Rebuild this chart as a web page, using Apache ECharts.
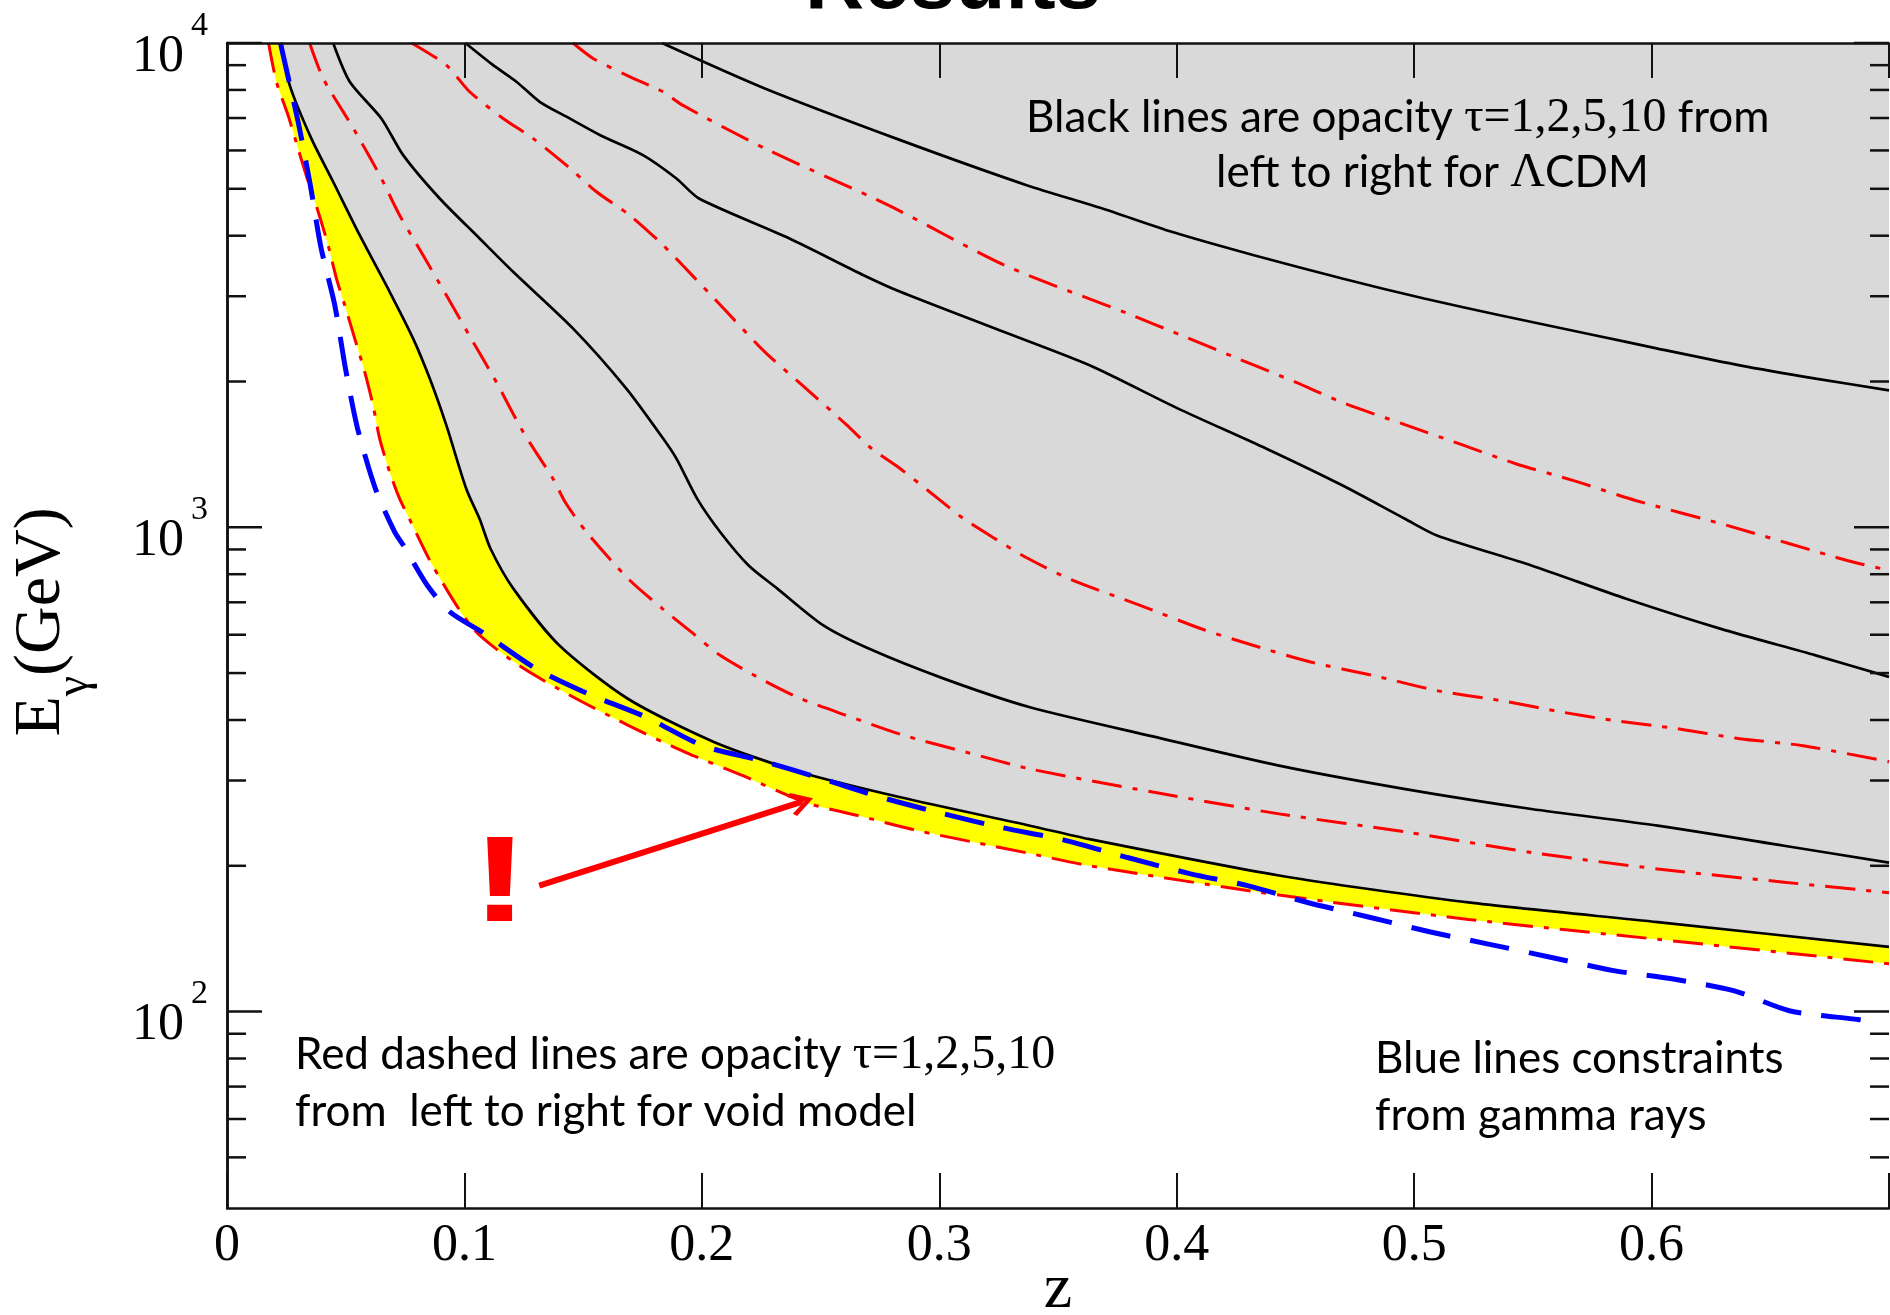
<!DOCTYPE html>
<html>
<head>
<meta charset="utf-8">
<title>Results</title>
<script src="https://cdn.jsdelivr.net/npm/echarts@6/dist/echarts.min.js"></script>
<style>
    html, body { margin: 0; padding: 0; background: #fff; }
    #chartMain { width: 1890px; height: 1315px; }
</style>
</head>
<body>
<div id="chartMain"></div>
<script>
// values: redshift z and photon energy E (GeV)

// black solid lines, LCDM, opacity tau = 1, 2, 5, 10
const zLcdm1 = [0.0229, 0.0264, 0.0355, 0.0447, 0.0559, 0.0685, 0.0784, 0.0854, 0.0924, 0.1008, 0.1064, 0.1110, 0.1206, 0.1400, 0.1690, 0.2053, 0.2415, 0.2836, 0.3382, 0.3633, 0.4431, 0.5229, 0.6026, 0.7000];
const eLcdm1 = [10000, 8185, 6353, 5170, 4010, 3064, 2453, 2028, 1623, 1200, 1040, 903, 747, 570, 442, 360, 312, 277, 242, 227, 191, 168, 153, 136];

const zLcdm2 = [0.0447, 0.0517, 0.0650, 0.0742, 0.0896, 0.1064, 0.1205, 0.1458, 0.1682, 0.1837, 0.1893, 0.1980, 0.2077, 0.2197, 0.2318, 0.2512, 0.2705, 0.3019, 0.3382, 0.3899, 0.4431, 0.4963, 0.5494, 0.6026, 0.6558, 0.7000];
const eLcdm2 = [10000, 8318, 6986, 5868, 4774, 3948, 3370, 2572, 1934, 1525, 1386, 1146, 978, 834, 747, 627, 561, 487, 425, 370, 322, 288, 262, 242, 220, 203];

const zLcdm5 = [0.1004, 0.1121, 0.1219, 0.1317, 0.1443, 0.1572, 0.1752, 0.1893, 0.1988, 0.2369, 0.2681, 0.2836, 0.3235, 0.3633, 0.4006, 0.4378, 0.4697, 0.4963, 0.5096, 0.5494, 0.5893, 0.6292, 0.6691, 0.7000];
const eLcdm5 = [10000, 9000, 8318, 7561, 6986, 6451, 5868, 5250, 4774, 3948, 3316, 3064, 2572, 2160, 1758, 1453, 1221, 1040, 962, 834, 712, 617, 544, 491];

const zLcdm10 = [0.1832, 0.2265, 0.2836, 0.3368, 0.3687, 0.3979, 0.4325, 0.4697, 0.5042, 0.5361, 0.5760, 0.6026, 0.6372, 0.6691, 0.7000];
const eLcdm10 = [10000, 8057, 6302, 5087, 4553, 4075, 3645, 3263, 2967, 2741, 2492, 2339, 2160, 2028, 1918];

// red dash-dot lines, void model, opacity tau = 1, 2, 5, 10
const zVoid1 = [0.0175, 0.0208, 0.0257, 0.0299, 0.0342, 0.0384, 0.0426, 0.0461, 0.0496, 0.0538, 0.0580, 0.0615, 0.0643, 0.0685, 0.0727, 0.0777, 0.0868, 0.1037, 0.1231, 0.1448, 0.1690, 0.1931, 0.2173, 0.2439, 0.2657, 0.2899, 0.3140, 0.3382, 0.3633, 0.4431, 0.5229, 0.6026, 0.7000];
const eVoid1 = [10000, 8318, 7097, 6056, 5168, 4482, 3823, 3263, 2874, 2453, 2094, 1786, 1524, 1301, 1146, 1020, 830, 617, 518, 449, 390, 343, 307, 270, 254, 237, 224, 212, 200, 174, 155, 141, 125.5];

const zVoid2 = [0.0348, 0.0405, 0.0524, 0.0643, 0.0727, 0.0826, 0.0924, 0.1036, 0.1134, 0.1247, 0.1373, 0.1424, 0.1514, 0.1690, 0.1834, 0.1955, 0.2077, 0.2246, 0.2415, 0.2608, 0.2850, 0.3116, 0.3382, 0.3899, 0.4431, 0.4963, 0.5494, 0.6026, 0.6558, 0.7000];
const eVoid2 = [10000, 8450, 6766, 5336, 4409, 3645, 3013, 2415, 1996, 1574, 1260, 1128, 978, 783, 679, 608, 544, 487, 443, 409, 372, 343, 317, 284, 256, 235, 213, 197, 185, 176];

const zVoid5 = [0.0777, 0.0924, 0.1022, 0.1163, 0.1289, 0.1429, 0.1556, 0.1696, 0.1822, 0.1919, 0.2092, 0.2265, 0.2439, 0.2612, 0.2716, 0.2836, 0.2995, 0.3102, 0.3235, 0.3368, 0.3554, 0.3846, 0.4112, 0.4325, 0.4564, 0.4830, 0.5096, 0.5361, 0.5627, 0.5840, 0.6106, 0.6372, 0.6638, 0.7000];
const eVoid5 = [10000, 9000, 7931, 6986, 6353, 5594, 4930, 4409, 3886, 3476, 2829, 2302, 1934, 1623, 1453, 1321, 1146, 1042, 947, 865, 780, 690, 615, 570, 527, 494, 460, 439, 415, 399, 384, 366, 354, 328];

const zVoid10 = [0.1457, 0.1542, 0.1682, 0.1836, 0.1919, 0.2265, 0.2785, 0.3275, 0.3793, 0.4019, 0.4258, 0.4498, 0.4710, 0.4949, 0.5189, 0.5428, 0.5668, 0.5933, 0.6318, 0.6824, 0.7000];
const eVoid10 = [10000, 9293, 8586, 7931, 7441, 6057, 4626, 3476, 2763, 2492, 2230, 1996, 1800, 1637, 1488, 1353, 1250, 1136, 1009, 854, 815];

// blue dashed line, constraint from gamma rays
const zGamma = [0.0225, 0.0246, 0.0302, 0.0351, 0.0396, 0.0454, 0.0499, 0.0550, 0.0625, 0.0706, 0.0747, 0.0844, 0.0940, 0.1085, 0.1303, 0.1521, 0.1762, 0.2004, 0.2246, 0.2512, 0.2754, 0.3019, 0.3261, 0.3527, 0.3793, 0.4059, 0.4298, 0.4551, 0.4803, 0.5069, 0.5308, 0.5574, 0.5840, 0.6079, 0.6345, 0.6584, 0.6870, 0.6942];
const eGamma = [10000, 9000, 6790, 5085, 3777, 2874, 2127, 1599, 1202, 978, 911, 758, 668, 603, 510, 453, 406, 354, 330, 302, 277, 256, 240, 226, 208, 192.5, 182, 168, 157, 146, 138, 129.5, 121.5, 117, 110.5, 100.3, 96.3, 95];

// red arrow pointing at the gap, tail and head
const arrowTail = [0.1315, 182];
const arrowHead = [0.2420, 271];

// axes
const zMin = 0;
const zMax = 0.7;
const zStep = 0.1;
const eMin = 39.3;
const eMax = 10000;
const yMajorTicks = [100, 1000, 10000];
const yMinorTicks = [50, 60, 70, 80, 90, 200, 300, 400, 500, 600, 700, 800, 900, 2000, 3000, 4000, 5000, 6000, 7000, 8000, 9000];

const pairs = (xs, ys) => xs.map((x, i) => [x, ys[i]]);

const SERIF = '"Liberation Serif", "Times New Roman", serif';
const SANS = 'Lato, "Open Sans", sans-serif';

const fillSeries = (xs, ys, color, z) => ({
    type: 'line',
    data: pairs(xs, ys),
    showSymbol: false,
    smooth: 0.25,
    silent: true,
    z: z,
    lineStyle: { width: 0, opacity: 0 },
    areaStyle: { color: color, opacity: 1, origin: 'end' }
});

const curveSeries = (name, xs, ys, color, width, dash, z) => ({
    name: name,
    type: 'line',
    data: pairs(xs, ys),
    showSymbol: false,
    smooth: 0.25,
    silent: true,
    z: z,
    lineStyle: { color: color, width: width, type: dash, cap: 'butt' }
});

const tickSeries = (values, len, labelled) => ({
    type: 'custom',
    z: 11,
    silent: true,
    clip: false,
    data: values.map(v => [zMin, v]),
    renderItem: function (params, api) {
        var v = api.value(1);
        var pl = api.coord([zMin, v]);
        var pr = api.coord([zMax, v]);
        var children = [
            { type: 'line', shape: { x1: pl[0], y1: pl[1], x2: pl[0] + len, y2: pl[1] }, style: { stroke: '#111', lineWidth: 2.5 } },
            { type: 'line', shape: { x1: pr[0] - len, y1: pr[1], x2: pr[0], y2: pr[1] }, style: { stroke: '#111', lineWidth: 2.5 } }
        ];
        if (labelled) {
            children.push({
                type: 'text', x: pl[0] - 43, y: pl[1] + 14,
                style: { text: '10', font: '52px ' + SERIF, fill: '#000', align: 'right', verticalAlign: 'middle' }
            });
            children.push({
                type: 'text', x: pl[0] - 36, y: pl[1] - 17,
                style: { text: String(Math.round(Math.log10(v))), font: '34px ' + SERIF, fill: '#000', align: 'left', verticalAlign: 'middle' }
            });
        }
        return { type: 'group', children: children };
    }
});

const noteRich = {
    s: { fontFamily: SANS, fontSize: 44, lineHeight: 54, fill: '#000' },
    m: { fontFamily: SERIF, fontSize: 48, lineHeight: 54, fill: '#000' }
};

const note = (x, y, text) => ({
    type: 'text', x: x, y: y, z: 20, silent: true,
    style: { text: text, rich: noteRich, align: 'left', verticalAlign: 'middle' }
});

const totalChartInit = () => {
    var chartDom = document.getElementById('chartMain');
    var myChart = echarts.init(chartDom, null, { renderer: 'canvas' });
    var option;

    var axisLine = { show: true, lineStyle: { color: '#111', width: 2.5 } };

    option = {
        animation: false,
        backgroundColor: '#fff',
        textStyle: { fontFamily: SERIF },
        grid: { left: 227, top: 43, right: 1, bottom: 107, containLabel: false, outerBoundsMode: 'none' },
        xAxis: [{
            type: 'value',
            min: zMin,
            max: zMax,
            interval: zStep,
            z: 10,
            axisLine: axisLine,
            axisTick: { show: true, inside: true, length: 35, lineStyle: { color: '#111', width: 2 } },
            splitLine: { show: false },
            axisLabel: {
                margin: 12,
                fontFamily: SERIF,
                fontSize: 52,
                lineHeight: 52,
                color: '#000',
                formatter: function (v) {
                    var r = Math.round(v * 10) / 10;
                    if (r >= zMax) { return ''; }
                    return r === 0 ? '0' : r.toFixed(1);
                }
            }
        }, {
            type: 'value',
            position: 'top',
            min: zMin,
            max: zMax,
            interval: zStep,
            z: 10,
            axisLine: axisLine,
            axisTick: { show: true, inside: true, length: 35, lineStyle: { color: '#111', width: 2 } },
            splitLine: { show: false },
            axisLabel: { show: false }
        }],
        yAxis: [{
            type: 'log',
            logBase: 10,
            min: eMin,
            max: eMax,
            z: 10,
            axisLine: axisLine,
            axisTick: { show: false },
            splitLine: { show: false },
            axisLabel: { show: false }
        }, {
            type: 'log',
            logBase: 10,
            position: 'right',
            min: eMin,
            max: eMax,
            z: 10,
            axisLine: axisLine,
            axisTick: { show: false },
            splitLine: { show: false },
            axisLabel: { show: false }
        }],
        series: [
            fillSeries(zVoid1, eVoid1, '#ffff00', 1),
            fillSeries(zLcdm1, eLcdm1, '#d9d9d9', 2),
            curveSeries('LCDM tau=1', zLcdm1, eLcdm1, '#000', 2.7, 'solid', 3),
            curveSeries('LCDM tau=2', zLcdm2, eLcdm2, '#000', 2.7, 'solid', 3),
            curveSeries('LCDM tau=5', zLcdm5, eLcdm5, '#000', 2.7, 'solid', 3),
            curveSeries('LCDM tau=10', zLcdm10, eLcdm10, '#000', 2.7, 'solid', 3),
            curveSeries('void tau=1', zVoid1, eVoid1, '#ff0000', 3, [30, 11, 5, 11], 4),
            curveSeries('void tau=2', zVoid2, eVoid2, '#ff0000', 3, [30, 11, 5, 11], 4),
            curveSeries('void tau=5', zVoid5, eVoid5, '#ff0000', 3, [30, 11, 5, 11], 4),
            curveSeries('void tau=10', zVoid10, eVoid10, '#ff0000', 3, [30, 11, 5, 11], 4),
            curveSeries('gamma rays', zGamma, eGamma, '#0000ff', 5, [40, 20], 5),
            {
                type: 'lines',
                coordinateSystem: 'cartesian2d',
                z: 6,
                silent: true,
                symbol: ['none', 'path://M10,0 L20,13 L17.2,15.2 L10,5.6 L2.8,15.2 L0,13 Z'],
                symbolSize: [30, 24],
                lineStyle: { color: '#ff0000', width: 6, opacity: 1, curveness: 0 },
                itemStyle: { color: '#ff0000' },
                data: [{ coords: [arrowTail, arrowHead] }]
            },
            tickSeries(yMinorTicks, 19, false),
            tickSeries(yMajorTicks, 35, true)
        ],
        graphic: [
            {
                type: 'text', x: 953, y: -15, z: 20, silent: true,
                style: { text: 'Results', font: 'bold 82px "Liberation Sans", Arial, sans-serif', fill: '#000', align: 'center', verticalAlign: 'middle' }
            },
            {
                type: 'text', x: 1058, y: 1290, z: 20, silent: true,
                style: { text: 'z', font: '64px ' + SERIF, fill: '#000', align: 'center', verticalAlign: 'middle' }
            },
            {
                type: 'text', x: 42, y: 622, z: 20, silent: true, rotation: Math.PI / 2,
                style: {
                    text: '{e|E}{g|\u03b3}{e|(GeV)}',
                    align: 'center',
                    verticalAlign: 'middle',
                    rich: {
                        e: { fontFamily: SERIF, fontSize: 66, lineHeight: 112, fill: '#000', verticalAlign: 'middle' },
                        g: { fontFamily: SERIF, fontSize: 46, lineHeight: 46, fill: '#000', verticalAlign: 'bottom' }
                    }
                }
            },
            note(1026, 118, '{s|Black lines are opacity }{m|\u03c4=1,2,5,10}{s| from}'),
            note(1216, 173, '{s|left to right for }{m|\u039b}{s|CDM}'),
            note(295, 1055, '{s|Red dashed lines are opacity }{m|\u03c4=1,2,5,10}'),
            note(295, 1112, '{s|from  left to right for void model}'),
            note(1375, 1059, '{s|Blue lines constraints}'),
            note(1375, 1116, '{s|from gamma rays}'),
            {
                type: 'text', x: 500, y: 887, z: 20, silent: true, scaleX: 1.45,
                style: { text: '!', font: 'bold 122px "Liberation Sans", Arial, sans-serif', fill: '#ff0000', align: 'center', verticalAlign: 'middle' }
            }
        ]
    };

    option && myChart.setOption(option);
};

totalChartInit();
</script>
</body>
</html>
